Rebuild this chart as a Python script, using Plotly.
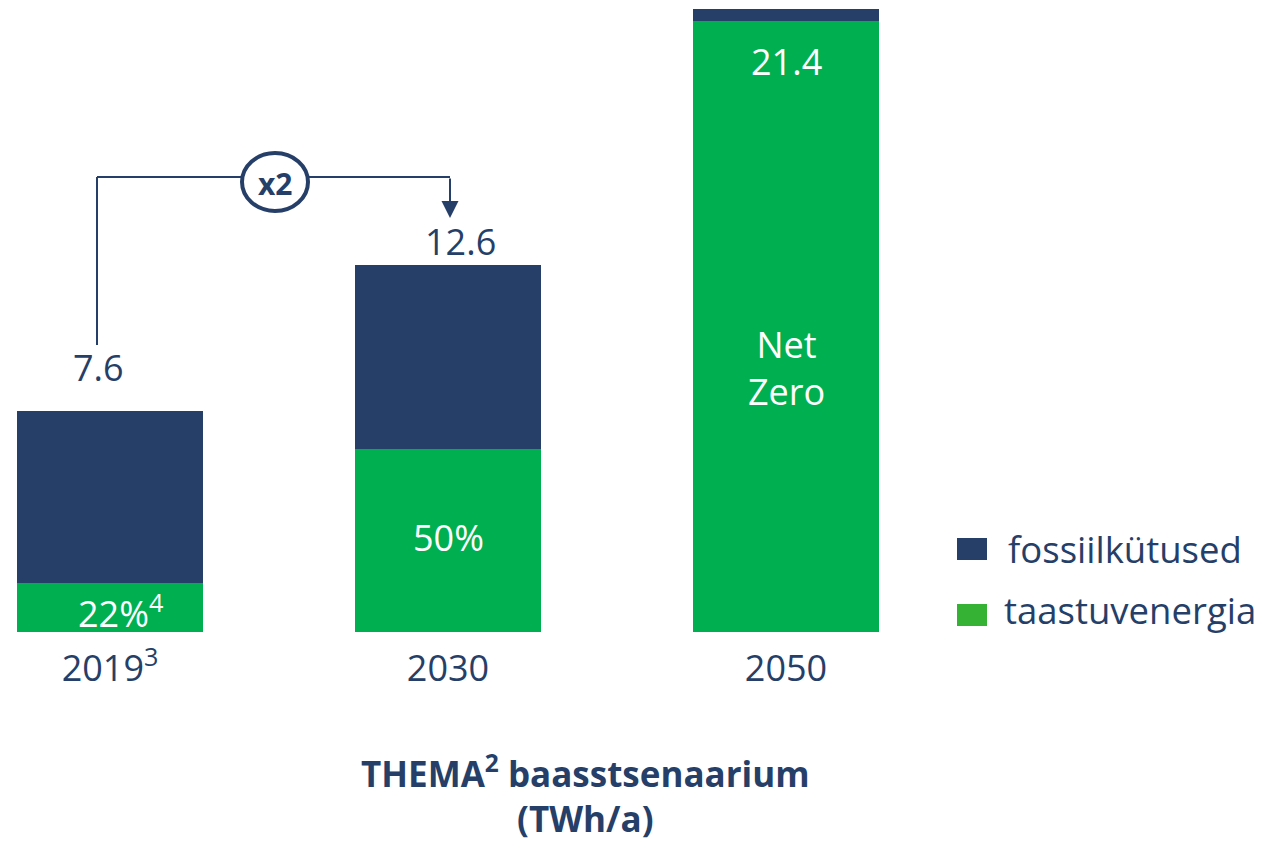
import plotly.graph_objects as go

categories = ["2019<sup>3</sup>", "2030", "2050"]
renewable = [1.67, 6.3, 21.0]   # taastuvenergia (TWh/a)
fossil = [5.93, 6.3, 0.4]       # fossiilkütused (TWh/a)
totals = [7.6, 12.6, 21.4]
shares = ["22%<sup>4</sup>", "50%", "Net<br>Zero"]

NAVY = "#263F68"
GREEN = "#00B050"
LEG_GREEN = "#35B234"
FONT = "Open Sans"

W, H = 1266, 841
OFF = 8            # page body margin offset
BASE = 632 - OFF   # baseline in figure pixels
K = 29.1           # pixels per TWh
x = [0, 1, 2]

fig = go.Figure()
fig.add_trace(go.Bar(x=x, y=renewable, marker=dict(color=GREEN, line=dict(width=0)),
                     width=0.55, name="taastuvenergia", showlegend=False))
fig.add_trace(go.Bar(x=x, y=fossil, marker=dict(color=NAVY, line=dict(width=0)),
                     width=0.55, name="fossiilkütused", showlegend=False))

x0 = -(110 - OFF) / 338
x1 = x0 + W / 338

fig.update_layout(
    barmode="stack",
    width=W, height=H,
    margin=dict(l=0, r=0, t=0, b=H - BASE, pad=0),
    plot_bgcolor="white", paper_bgcolor="white",
    font=dict(family=FONT, color=NAVY),
    xaxis=dict(range=[x0, x1], tickmode="array", tickvals=x, ticktext=categories,
               showgrid=False, zeroline=False, showline=False, ticks="",
               tickfont=dict(size=36, color=NAVY, family=FONT), ticklabelstandoff=12),
    yaxis=dict(range=[0, BASE / K], visible=False, showgrid=False),
)


def fx(rx):
    return (rx - OFF) / W


def fy(ry):
    return (BASE - (ry - OFF)) / BASE


def dy(ry):
    return (632 - ry) / K


lab = dict(size=36, family=FONT)
# total labels
fig.add_annotation(x=0, y=totals[0], yshift=43, xshift=-12, text=str(totals[0]), showarrow=False,
                   font=dict(color=NAVY, **lab))
fig.add_annotation(x=1, y=totals[1], yshift=24, xshift=12, text=str(totals[1]), showarrow=False,
                   font=dict(color=NAVY, **lab))
fig.add_annotation(x=2, y=totals[2], yshift=-52, text=str(totals[2]), showarrow=False,
                   font=dict(color="white", **lab))

# share labels inside green
fig.add_annotation(x=0, y=dy(611), xshift=10, text=shares[0], showarrow=False,
                   font=dict(color="white", **lab))
fig.add_annotation(x=1, y=dy(537), text=shares[1], showarrow=False,
                   font=dict(color="white", **lab))
fig.add_annotation(x=2, y=dy(368), text=shares[2], showarrow=False,
                   font=dict(color="white", **lab))

# x2 bracket
line = dict(color=NAVY, width=2)
fig.add_shape(type="line", xref="paper", yref="paper", x0=fx(97), x1=fx(97), y0=fy(345), y1=fy(177), line=line)
fig.add_shape(type="line", xref="paper", yref="paper", x0=fx(97), x1=fx(242), y0=fy(177), y1=fy(177), line=line)
fig.add_shape(type="line", xref="paper", yref="paper", x0=fx(308), x1=fx(450), y0=fy(177), y1=fy(177), line=line)
fig.add_shape(type="circle", xref="paper", yref="paper", x0=fx(242), x1=fx(308), y0=fy(211), y1=fy(153),
              line=dict(color=NAVY, width=4), fillcolor="white")
fig.add_annotation(xref="paper", yref="paper", x=fx(275), y=fy(183), xanchor="center", yanchor="middle",
                   text="<b>x2</b>", showarrow=False,
                   font=dict(size=30, color=NAVY, family=FONT))
fig.add_annotation(xref="paper", yref="paper", x=fx(450), y=fy(218), text="", showarrow=True,
                   axref="pixel", ayref="pixel", ax=0, ay=-41, arrowhead=2, arrowsize=1.7,
                   arrowwidth=2, arrowcolor=NAVY)

# legend
fig.add_shape(type="rect", xref="paper", yref="paper", x0=fx(957), x1=fx(987), y0=fy(560), y1=fy(538),
              fillcolor=NAVY, line=dict(width=0))
fig.add_shape(type="rect", xref="paper", yref="paper", x0=fx(957), x1=fx(987), y0=fy(626), y1=fy(604),
              fillcolor=LEG_GREEN, line=dict(width=0))
fig.add_annotation(xref="paper", yref="paper", x=fx(1006), y=fy(549), xanchor="left", yanchor="middle",
                   text="fossiilkütused",
                   showarrow=False, font=dict(size=36.5, color=NAVY, family=FONT))
fig.add_annotation(xref="paper", yref="paper", x=fx(1002), y=fy(610), xanchor="left", yanchor="middle",
                   text="taastuvenergia",
                   showarrow=False, font=dict(size=36.5, color=NAVY, family=FONT))

# title
fig.add_annotation(xref="paper", yref="paper", x=fx(585), y=fy(794), xanchor="center", yanchor="middle",
                   text="<b>THEMA<sup>2</sup> baasstsenaarium<br>(TWh/a)</b>", showarrow=False,
                   font=dict(size=35, color=NAVY, family=FONT))

fig.write_html("out.html")
